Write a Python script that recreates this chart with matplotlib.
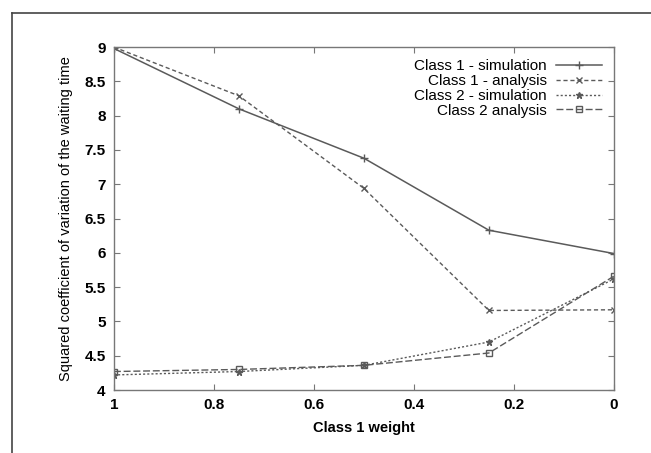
import matplotlib
matplotlib.use("Agg")
import matplotlib.pyplot as plt
from matplotlib.lines import Line2D

plt.rcParams['font.family'] = ['Liberation Sans', 'DejaVu Sans']

# data
weights = [1, 0.75, 0.5, 0.25, 0]
c1_sim = [8.98, 8.10, 7.38, 6.33, 5.99]
c1_ana = [9.00, 8.29, 6.94, 5.16, 5.17]
c2_sim = [4.22, 4.27, 4.36, 4.70, 5.62]
c2_ana = [4.27, 4.30, 4.36, 4.54, 5.66]
xticks = [1, 0.8, 0.6, 0.4, 0.2, 0]
yticks = [4, 4.5, 5, 5.5, 6, 6.5, 7, 7.5, 8, 8.5, 9]

fig = plt.figure(figsize=(6.51, 4.53), dpi=100)
ax = fig.add_axes([0.175, 0.139, 0.768, 0.757])

col = '#5a5a5a'
ax.plot(weights, c1_sim, color=col, lw=1.1, ls='-', marker='+', ms=6, label='Class 1 - simulation')
ax.plot(weights, c1_ana, color=col, lw=1.0, ls=(0, (3, 2)), marker='x', ms=5, label='Class 1 - analysis')
ax.plot(weights, c2_sim, color=col, lw=1.0, ls=(0, (1.5, 1.5)), marker='*', ms=5, label='Class 2 - simulation')
ax.plot(weights, c2_ana, color=col, lw=1.0, ls=(0, (5, 2)), marker='s', ms=5, mfc='none', label='Class 2 analysis')

ax.set_xlim(1, 0)
ax.set_ylim(4, 9)
ax.set_xticks(xticks)
ax.set_xticklabels([str(t) for t in xticks])
ax.set_yticks(yticks)
ax.set_yticklabels(['4', '4.5', '5', '5.5', '6', '6.5', '7', '7.5', '8', '8.5', '9'])
ax.tick_params(direction='in', top=True, right=True, length=4, width=0.8, color='#777777',
               labelsize=11, pad=6)
for lab in ax.get_xticklabels() + ax.get_yticklabels():
    lab.set_fontweight('bold')
for s in ax.spines.values():
    s.set_color('#777777')
    s.set_linewidth(1.0)

ax.set_xlabel('Class 1 weight', fontsize=10.5, fontweight='bold', labelpad=6)
ax.set_ylabel('Squared coefficient of variation of the waiting time', fontsize=10.5, labelpad=8)

leg = ax.legend(loc='upper right', markerfirst=False, frameon=False, fontsize=11,
                handlelength=3.0, handletextpad=0.6, labelspacing=0.05,
                borderaxespad=0.4)
for t in leg.get_texts():
    t.set_ha('right')
    t.set_color('black')

# outer frame of the picture
fig.add_artist(Line2D([12 / 651, 1], [1 - 13 / 453, 1 - 13 / 453], transform=fig.transFigure, color='#444444', lw=1.2))
fig.add_artist(Line2D([12 / 651, 12 / 651], [0, 1 - 13 / 453], transform=fig.transFigure, color='#444444', lw=1.2))

fig.savefig('out.png', dpi=100)
